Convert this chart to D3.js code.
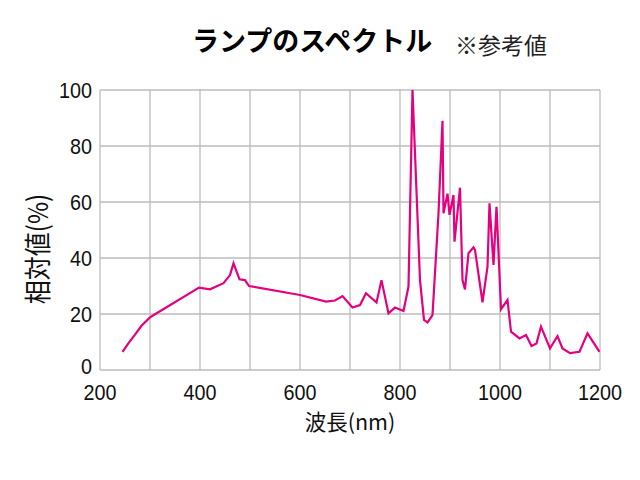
<!DOCTYPE html>
<html>
<head>
<meta charset="utf-8">
<script src="https://cdn.jsdelivr.net/npm/d3@7"></script>
<style>
  html, body { margin: 0; padding: 0; background: #fff; }
  svg { display: block; }
</style>
</head>
<body>
<svg id="chart" width="640" height="480"></svg>
<script>
// Wavelength (nm)
const wavelengths = [245, 256, 267, 283, 300, 310, 398, 420, 447, 460, 467, 479, 490, 498, 600, 652, 670, 685,
  705, 720, 732, 753, 763, 777, 790, 807, 817, 825, 840, 848, 855, 865, 877, 885, 887, 895, 899,
  907, 909, 920, 925, 930, 937, 947, 950, 965, 975, 979, 987, 993, 1002, 1015, 1022, 1039, 1052,
  1063, 1073, 1082, 1100, 1115, 1125, 1140, 1159, 1175, 1199];
// Relative value (%)
const relValues = [6.5, 9.3, 11.9, 15.8, 18.8, 19.9, 29.4, 28.8, 31, 33.9, 38.1, 32.4, 32.1, 30, 26.8, 24.4, 24.8, 26.4,
  22.3, 23.2, 27.4, 24.1, 32.1, 20.2, 22.3, 21.1, 29.8, 100, 32.1, 17.9, 17, 19.6, 56, 89, 56, 63, 55.4,
  62.5, 45.8, 65.1, 32.1, 28.8, 41.7, 43.8, 42.9, 24.2, 36.9, 59.5, 37.5, 58.3, 21.7, 25, 13.7, 11.3, 12.5,
  8.6, 9.5, 15.5, 7.7, 12.1, 7.7, 6, 6.5, 13.1, 6.5];
const xTicks = [200, 400, 600, 800, 1000, 1200];
const xGrid = [200, 300, 400, 500, 600, 700, 800, 900, 1000, 1100, 1200];
const yTicks = [0, 20, 40, 60, 80, 100];
const titleMain = "ランプのスペクトル";
const titleNote = "※参考値";
const xTitle = "波長(nm)";
const yTitle = "相対値(%)";

const svg = d3.select("#chart");
const pL = 100, pR = 600, pT = 90, pB = 370;
const x = d3.scaleLinear().domain([200, 1200]).range([pL, pR]);
const y = d3.scaleLinear().domain([0, 100]).range([pB, pT]);

const gridColor = "#bdbdbd";
const numFont = "'Liberation Sans', Arial, sans-serif";
const jpFont = "'Noto Sans CJK JP', sans-serif";

// grid
svg.append("g").selectAll("line").data(xGrid).join("line")
  .attr("x1", d => x(d)).attr("x2", d => x(d))
  .attr("y1", pT).attr("y2", pB)
  .attr("stroke", gridColor).attr("stroke-width", 1.3);
svg.append("g").selectAll("line").data(yTicks).join("line")
  .attr("x1", pL).attr("x2", pR)
  .attr("y1", d => y(d)).attr("y2", d => y(d))
  .attr("stroke", gridColor).attr("stroke-width", 1.3);

// line
const line = d3.line().x((d, i) => x(wavelengths[i])).y(d => y(d));
svg.append("defs").append("clipPath").attr("id", "clip")
  .append("rect").attr("x", pL).attr("y", pT - 1).attr("width", pR - pL).attr("height", pB - pT + 2);
svg.append("path").datum(relValues)
  .attr("d", line)
  .attr("fill", "none")
  .attr("stroke", "#e4007f")
  .attr("stroke-width", 2.2)
  .attr("stroke-linejoin", "miter")
  .attr("clip-path", "url(#clip)");

// y tick labels
svg.append("g").selectAll("text").data(yTicks).join("text")
  .attr("transform", d => `translate(92,${y(d) + (d === 0 ? 4 : 8)}) scale(0.9,1)`)
  .attr("text-anchor", "end")
  .attr("font-family", numFont).attr("font-size", 22)
  .attr("fill", "#111")
  .text(d => d);

// x tick labels
svg.append("g").selectAll("text").data(xTicks).join("text")
  .attr("transform", d => `translate(${x(d)},400) scale(0.9,1)`)
  .attr("text-anchor", "middle")
  .attr("font-family", numFont).attr("font-size", 22)
  .attr("fill", "#111")
  .text(d => d);

// axis titles
svg.append("text")
  .attr("x", 350).attr("y", 430)
  .attr("text-anchor", "middle")
  .attr("font-family", jpFont).attr("font-size", 21.5)
  .attr("fill", "#111")
  .text(xTitle);
svg.append("text")
  .attr("transform", "translate(48,249) rotate(-90) scale(1,1.15)")
  .attr("text-anchor", "middle")
  .attr("font-family", jpFont).attr("font-size", 24)
  .attr("fill", "#111")
  .text(yTitle);

// title
svg.append("text")
  .attr("x", 192).attr("y", 51)
  .attr("font-family", jpFont).attr("font-size", 27).attr("font-weight", "bold")
  .attr("fill", "#000")
  .text(titleMain);
svg.append("text")
  .attr("x", 455).attr("y", 54)
  .attr("font-family", jpFont).attr("font-size", 23)
  .attr("fill", "#222")
  .text(titleNote);
</script>
</body>
</html>
